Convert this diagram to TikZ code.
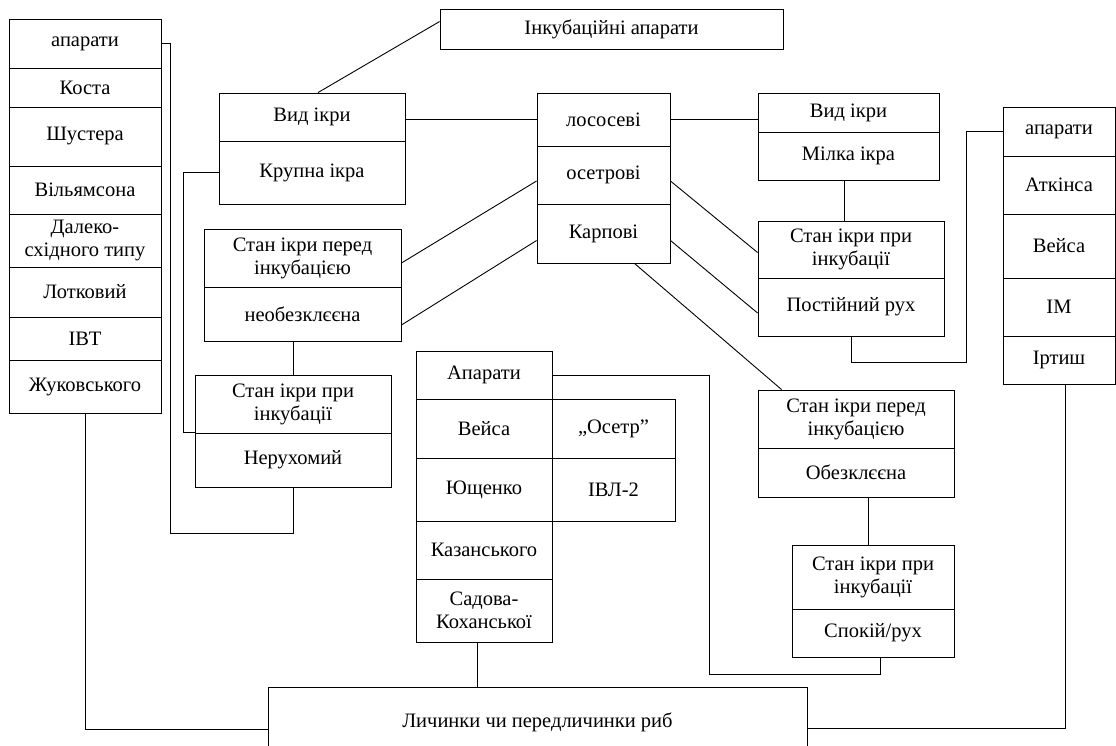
\documentclass[tikz,border=0pt]{standalone}
\usepackage{fontspec}
\setmainfont{Liberation Serif}
\usetikzlibrary{calc}
\tikzset{
  cell/.style={draw, line width=0.9pt, inner sep=0pt, align=center, font=\fontsize{20.5}{23}\selectfont},
  conn/.style={draw, line width=0.9pt}
}
\newcommand\cellbox[6]{%
  \pgfmathsetmacro\cbw{#3-#2}\pgfmathsetmacro\cbh{#5-#4}%
  \pgfmathsetmacro\cbx{(#2+#3)/2}\pgfmathsetmacro\cby{(#4+#5)/2}%
  \node[cell, minimum width=\cbw pt, minimum height=\cbh pt] (#1) at (\cbx,\cby) {#6};}
\begin{document}
\begin{tikzpicture}[x=1pt,y=-1pt]
\useasboundingbox (0,0) rectangle (1116,746);
% left column
\cellbox{L1}{9}{161}{19}{68}{апарати}
\cellbox{L2}{9}{161}{68}{107}{Коста}
\cellbox{L3}{9}{161}{107}{166}{Шустера}
\cellbox{L4}{9}{161}{166}{214}{Вільямсона}
\cellbox{L5}{9}{161}{214}{267}{Далеко-\\східного типу}
\cellbox{L6}{9}{161}{267}{317}{Лотковий}
\cellbox{L7}{9}{161}{317}{360}{ІВТ}
\cellbox{L8}{9}{161}{360}{413}{Жуковського}
% title
\cellbox{T}{440}{783}{9}{49}{Інкубаційні апарати}
% left Vid ikry
\cellbox{VL1}{219}{405}{93}{141}{Вид ікри}
\cellbox{VL2}{219}{405}{141}{204}{Крупна ікра}
% left stan pered
\cellbox{SL1}{204}{401}{229}{287}{Стан ікри перед\\інкубацією}
\cellbox{SL2}{204}{401}{287}{341}{необезклєєна}
% left stan pry
\cellbox{PL1}{195}{391}{375}{433}{Стан ікри при\\інкубації}
\cellbox{PL2}{195}{391}{433}{487}{Нерухомий}
% center
\cellbox{C1}{537}{670}{93}{146}{лососеві}
\cellbox{C2}{537}{670}{146}{204}{осетрові}
\cellbox{C3}{537}{670}{204}{263}{Карпові}
% right Vid ikry
\cellbox{VR1}{758}{939}{93}{132}{Вид ікри}
\cellbox{VR2}{758}{939}{132}{180}{Мілка ікра}
% right stan pry
\cellbox{PR1}{758}{944}{221}{278}{Стан ікри при\\інкубації}
\cellbox{PR2}{758}{944}{278}{336}{Постійний рух}
% right column
\cellbox{R1}{1003}{1115}{107}{156}{апарати}
\cellbox{R2}{1003}{1115}{156}{214}{Аткінса}
\cellbox{R3}{1003}{1115}{214}{278}{Вейса}
\cellbox{R4}{1003}{1115}{278}{336}{ІМ}
\cellbox{R5}{1003}{1115}{336}{384}{Іртиш}
% lower center table
\cellbox{A1}{416}{552}{351}{399}{Апарати}
\cellbox{A2}{416}{552}{399}{458}{Вейса}
\cellbox{A3}{416}{552}{458}{521}{Ющенко}
\cellbox{A4}{416}{552}{521}{579}{Казанського}
\cellbox{A5}{416}{552}{579}{642}{Садова-\\Коханської}
\cellbox{B1}{552}{675}{399}{458}{„Осетр”}
\cellbox{B2}{552}{675}{458}{521}{ІВЛ-2}
% right stan pered
\cellbox{SR1}{758}{954}{390}{448}{Стан ікри перед\\інкубацією}
\cellbox{SR2}{758}{954}{448}{497}{Обезклєєна}
% right stan pry (lower)
\cellbox{QR1}{792}{954}{545}{609}{Стан ікри при\\інкубації}
\cellbox{QR2}{792}{954}{609}{657}{Спокій/рух}
% bottom
\cellbox{Bot}{268}{807}{687}{757}{Личинки чи передличинки риб}

% connectors
\draw[conn] ([yshift=-13pt]T.north west) -- ([xshift=6pt]VL1.north);
\draw[conn] (C1.west) -- (C1.west -| VL1.east);
\draw[conn] (C1.east) -- (C1.east -| VR1.west);
\draw[conn] ([yshift=-6pt]C2.west) -- ([yshift=-5pt]SL1.east);
\draw[conn] ([yshift=-7pt]C3.west) -- ([yshift=-11pt]SL2.east);
\draw[conn] ([yshift=-6pt]C2.east) -- ([yshift=-3pt]PR1.west);
\draw[conn] ([yshift=-7pt]C3.east) -- ([yshift=-6pt]PR2.west);
\draw[conn] ([xshift=31pt]C3.south) -- ([xshift=24pt]SR1.north west);
\draw[conn] ([xshift=-4pt]VR2.south) -- ([xshift=-4pt]VR2.south |- PR1.north);
\coordinate (pr2b) at ($(PR2.south)+(0,26)$);
\draw[conn] (PR2.south) -- (pr2b) -- (pr2b -| 966,0) -- (966,0 |- R1.west) -- (R1.west);
\draw[conn] (L1.east) -- (170,0 |- L1.east) -- (170,533) -- (PL2.south |- 0,533) -- (PL2.south);
\draw[conn] (VL2.west) -- (183,0 |- VL2.west) -- (183,0 |- PL2.north west) -- (PL2.north west);
\draw[conn] (PL1.north |- SL2.south) -- (PL1.north);
\draw[conn] (L8.south) |- ([yshift=-7pt]Bot.west);
\draw[conn] ([xshift=6pt]R5.south) |- ([yshift=-6pt]Bot.east);
\draw[conn] ([xshift=-7pt]A5.south) -- ([xshift=-7pt]A5.south |- Bot.north);
\draw[conn] (A1.east) -- (709,0 |- A1.east) -- (709,674) -- ([xshift=7pt]QR2.south |- 0,674) -- ([xshift=7pt]QR2.south);
\draw[conn] ([xshift=12pt]SR2.south) -- ([xshift=12pt]SR2.south |- QR1.north);
\end{tikzpicture}
\end{document}
